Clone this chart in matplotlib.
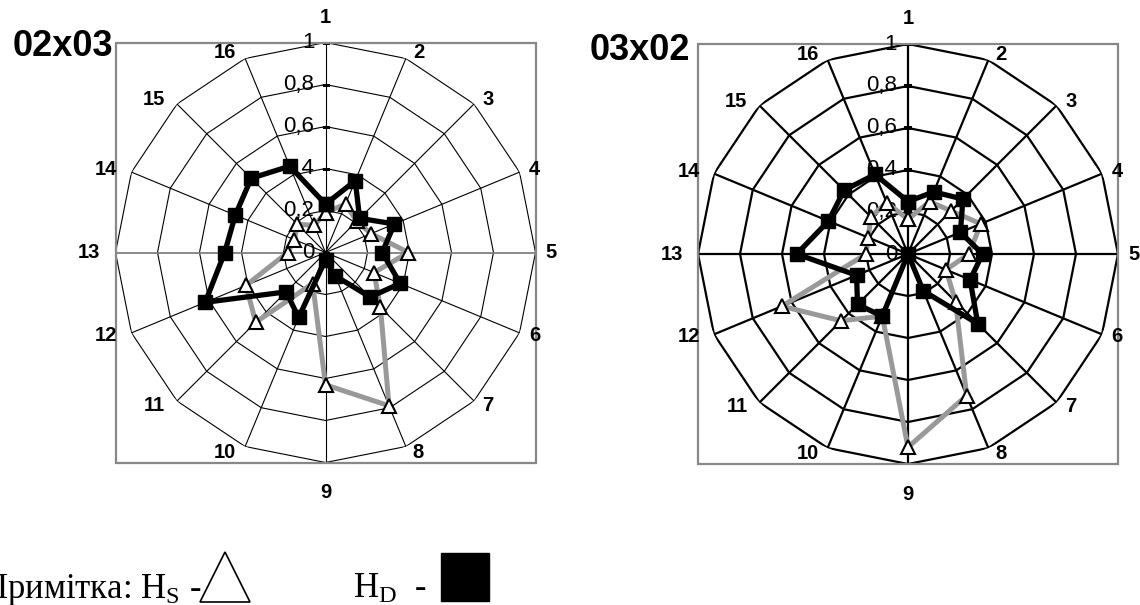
import matplotlib
matplotlib.use('Agg')
import matplotlib.pyplot as plt
from matplotlib.patches import Rectangle
from matplotlib.lines import Line2D
import numpy as np

plt.rcParams['font.family'] = ['Liberation Sans', 'DejaVu Sans']
plt.rcParams['mathtext.fontset'] = 'custom'
plt.rcParams['mathtext.rm'] = 'Liberation Serif'
plt.rcParams['mathtext.it'] = 'Liberation Serif:italic'

# categories (spokes) and value axis
categories = [str(i) for i in range(1, 17)]
ring_values = [0.0, 0.2, 0.4, 0.6, 0.8, 1.0]
ring_labels = ['0', '0,2', '0,4', '0,6', '0,8', '1']

# 02x03 chart
hs_0203 = [0.19, 0.25, 0.21, 0.235, 0.395, 0.25, 0.37, 0.79,
           0.63, 0.16, 0.47, 0.41, 0.18, 0.16, 0.19, 0.14]
hd_0203 = [0.23, 0.37, 0.23, 0.355, 0.27, 0.385, 0.30, 0.12,
           0.035, 0.335, 0.265, 0.62, 0.48, 0.465, 0.50, 0.445]

# 03x02 chart
hs_0302 = [0.165, 0.27, 0.29, 0.375, 0.29, 0.196, 0.32, 0.73,
           0.92, 0.32, 0.45, 0.65, 0.20, 0.205, 0.25, 0.265]
hd_0302 = [0.25, 0.32, 0.37, 0.27, 0.355, 0.32, 0.47, 0.19,
           0.0, 0.32, 0.34, 0.265, 0.53, 0.41, 0.43, 0.41]

fig = plt.figure(figsize=(11.4, 6.05), dpi=100)

n = len(categories)
theta = np.arange(n) * 2 * np.pi / n
theta_c = np.append(theta, theta[0])
PX = 0.72  # pixels -> points at 100 dpi


def radar(rect, title, title_xy, hs, hd, grid_lw, mid_color):
    ax = fig.add_axes(rect, projection='polar')
    ax.set_theta_zero_location('N')
    ax.set_theta_direction(-1)
    ax.grid(False)
    ax.set_xticks([])
    ax.set_yticks([])
    for sp in ax.spines.values():
        sp.set_visible(False)

    # polygon rings and spokes
    for r in ring_values[1:]:
        ax.plot(theta_c, [r] * (n + 1), color='black', lw=grid_lw, zorder=1)
    for i, t in enumerate(theta):
        c = mid_color if i in (4, 12) else 'black'
        ax.plot([t, t], [0, 1], color=c, lw=grid_lw if c == 'black' else 1.3, zorder=1)

    # value axis ticks + labels
    ax.plot([0] * len(ring_values), ring_values, ls='none', marker='_',
            ms=6, mew=grid_lw, color='black', zorder=1)
    for v, lbl in zip(ring_values, ring_labels):
        ax.annotate(lbl, xy=(0, v), xytext=(-11 * PX, 0), textcoords='offset points',
                    ha='right', va='center', fontsize=16, annotation_clip=False)

    # category labels
    for t, lbl in zip(theta, categories):
        s, c = np.sin(t), np.cos(t)
        if abs(s) < 1e-6:
            ha = 'center'
            dx, dy = 0, (25 if c > 0 else -30)
        elif s > 0:
            ha = 'left'
            dx, dy = 5 + 5 * abs(s), c * 6
        else:
            ha = 'right'
            dx, dy = -(5 + 10 * abs(s)), c * 6
        ax.annotate(lbl, xy=(t, 1), xytext=(dx * PX, dy * PX), textcoords='offset points',
                    ha=ha, va='center', fontsize=14.5, fontweight='bold',
                    annotation_clip=False)

    # series
    ax.plot(theta_c, hs + hs[:1], color='#999999', lw=3.6, marker='^', ms=10,
            mfc='white', mec='black', mew=1.5, zorder=3, clip_on=False)
    ax.plot(theta_c, hd + hd[:1], color='black', lw=3.8, marker='s', ms=9.5,
            zorder=4, clip_on=False)
    ax.set_ylim(0, 1)

    ax.add_artist(Rectangle((0, 0), 1, 1, transform=ax.transAxes, fill=False,
                            edgecolor='#888888', lw=1.6, clip_on=False))
    fig.text(title_xy[0], title_xy[1], title, fontsize=26, fontweight='bold',
             ha='center', va='center')
    return ax


W, H = 1140, 605
radar([115.5 / W, 142.5 / H, 420 / W, 420 / H], '02x03', (62.5 / W, 1 - 46 / H),
      hs_0203, hd_0203, 0.8, '#808080')
radar([698 / W, 141 / H, 420 / W, 420 / H], '03x02', (640 / W, 1 - 50 / H),
      hs_0302, hd_0302, 1.6, 'black')

# note at the bottom
serif = ['Liberation Serif', 'DejaVu Serif']
fig.text(-18 / W, 7 / H, r'Примітка: H$_{\mathrm{S}}$ -', fontsize=25,
         family=serif, ha='left', va='baseline')
fig.text(353 / W, 7 / H, r'H$_{\mathrm{D}}$  -', fontsize=25,
         family=serif, ha='left', va='baseline')
fig.add_artist(Line2D([225 / W], [28 / H], transform=fig.transFigure, marker='^',
                      ms=36, mfc='white', mec='black', mew=1.2, ls='none'))
fig.add_artist(Line2D([465 / W], [28 / H], transform=fig.transFigure, marker='s',
                      ms=35, mfc='black', mec='black', ls='none'))

fig.savefig('out.png', dpi=100, facecolor='white')
